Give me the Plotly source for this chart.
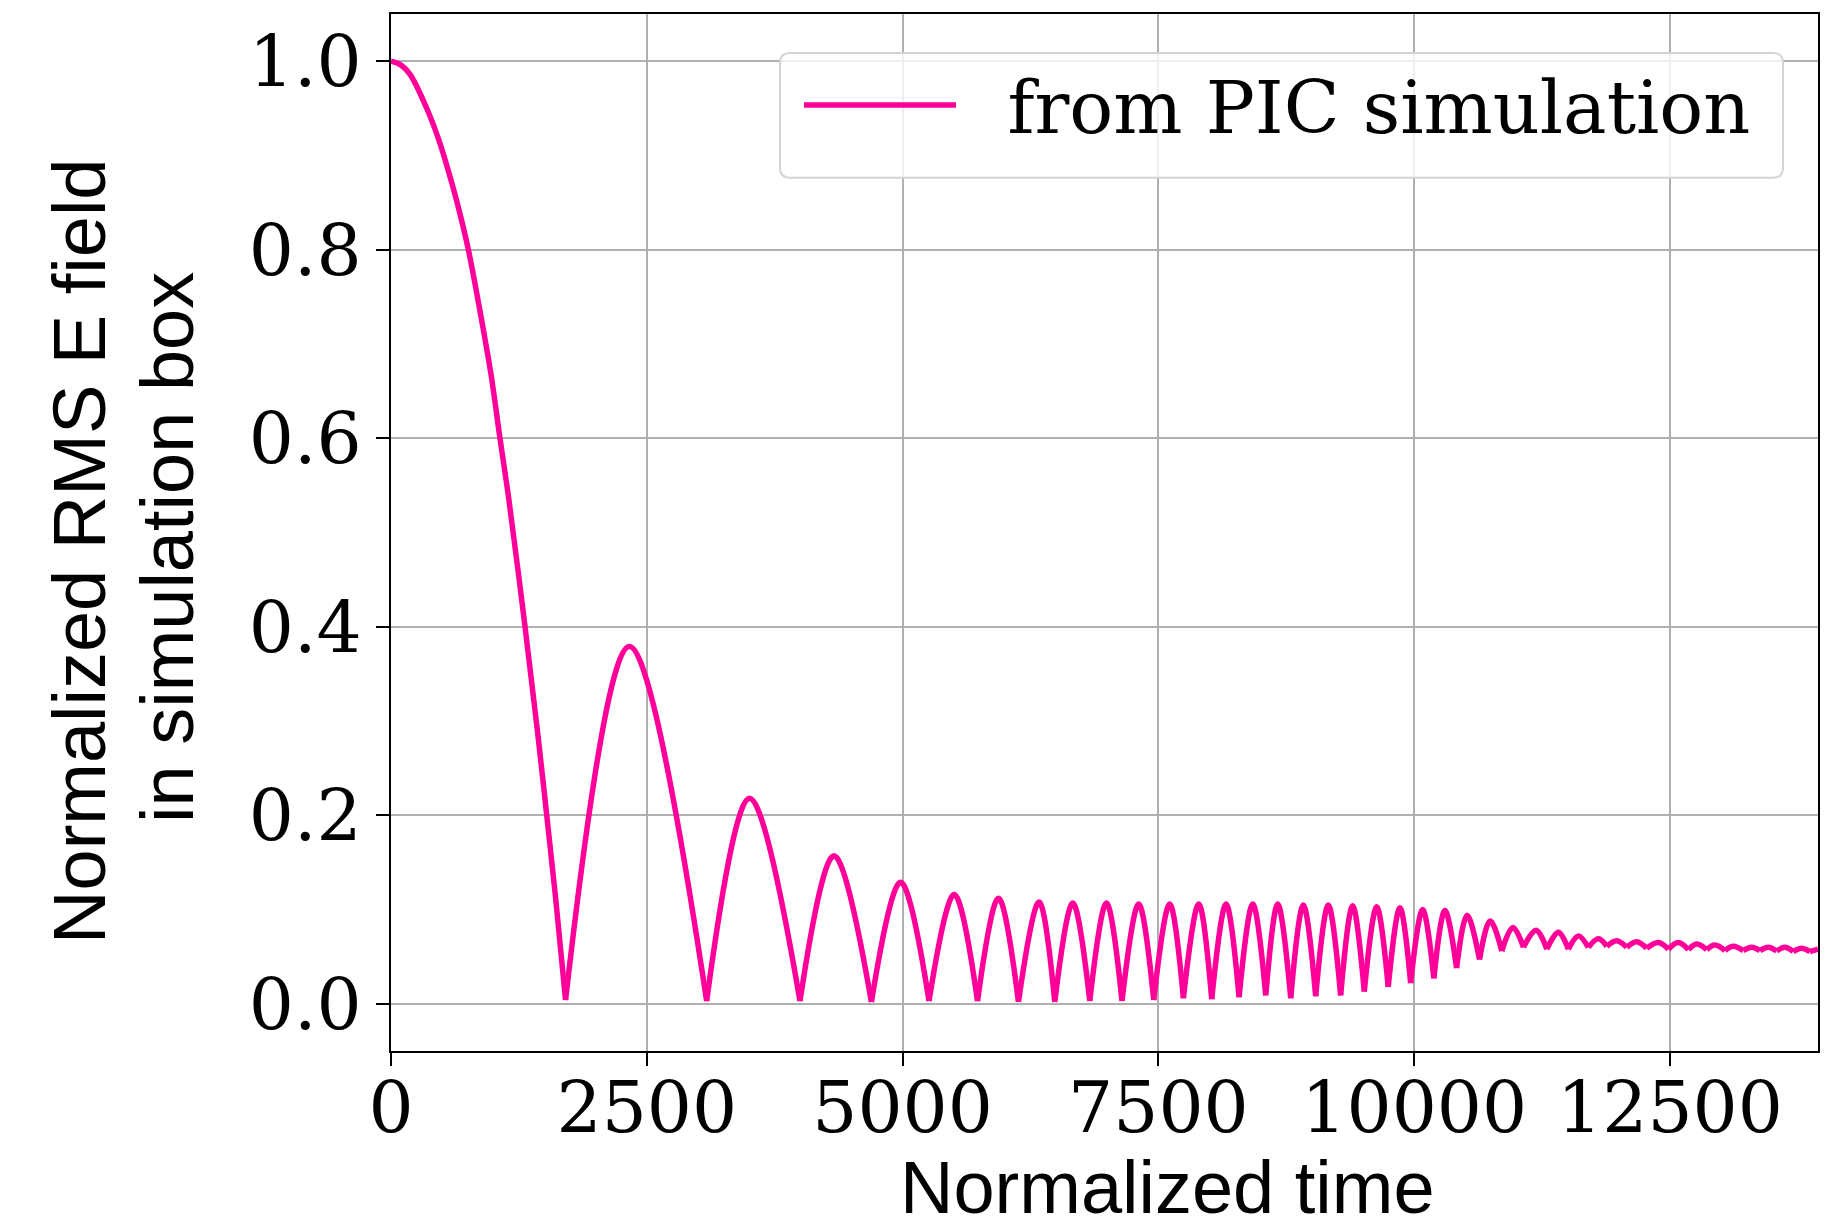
import plotly.graph_objects as go

# ---- data ----
first_lobe_t = [0, 95, 186, 349, 472, 570, 658, 756, 863, 977, 1065, 1153, 1310, 1434, 1522, 1610, 1706]
first_lobe_v = [1.0, 0.996, 0.986, 0.95, 0.915, 0.88, 0.845, 0.8, 0.739, 0.668, 0.6, 0.534, 0.4, 0.287, 0.2, 0.111, 0.004]

trough_t = [1706, 3085, 3997, 4695, 5258, 5732, 6132, 6487, 6829, 7144, 7454, 7744, 8021, 8288,
            8549, 8793, 9037, 9281, 9512, 9746, 9965, 10192, 10414, 10638, 10856, 11068, 11296,
            11506, 11702, 11882, 12077, 12272, 12484, 12679, 12858, 13037, 13216, 13379, 13542,
            13704, 13867]
trough_v = [0.004, 0.003, 0.003, 0.002, 0.003, 0.003, 0.002, 0.002, 0.003, 0.003, 0.004, 0.006,
            0.005, 0.007, 0.009, 0.006, 0.008, 0.009, 0.013, 0.018, 0.022, 0.027, 0.038, 0.047,
            0.056, 0.060, 0.058, 0.058, 0.060, 0.061, 0.060, 0.059, 0.058, 0.0575, 0.0575, 0.0565,
            0.0565, 0.0565, 0.056, 0.0555, 0.0555]

peak_t = [2329, 3504, 4329, 4980, 5504, 5937, 6333, 6663, 6992, 7307, 7610, 7894, 8161, 8422,
          8666, 8916, 9160, 9398, 9633, 9860, 10082, 10300, 10517, 10742, 10964, 11191, 11409,
          11605, 11800, 11979, 12175, 12386, 12581, 12760, 12939, 13118, 13298, 13460, 13623,
          13786]
peak_v = [0.379, 0.218, 0.157, 0.129, 0.116, 0.112, 0.108, 0.107, 0.107, 0.106, 0.106, 0.106,
          0.106, 0.106, 0.106, 0.105, 0.105, 0.104, 0.103, 0.102, 0.100, 0.099, 0.094, 0.088,
          0.081, 0.078, 0.076, 0.072, 0.069, 0.067, 0.066, 0.065, 0.065, 0.0635, 0.0625, 0.061,
          0.060, 0.060, 0.060, 0.059]

end_t = [13867, 13946]
end_v = [0.0555, 0.058]

x_ticks = [0, 2500, 5000, 7500, 10000, 12500]
y_ticks = [0.0, 0.2, 0.4, 0.6, 0.8, 1.0]

series_name = "from PIC simulation"
x_title = "Normalized time"
y_title_lines = ["Normalized RMS E field", "in simulation box"]

# ---- build the curve: each lobe drawn as its own smooth arch ----
xs, ys = list(first_lobe_t) + [None], list(first_lobe_v) + [None]
for i in range(len(peak_t)):
    xs += [trough_t[i], peak_t[i], trough_t[i + 1], None]
    ys += [trough_v[i], peak_v[i], trough_v[i + 1], None]
xs += end_t
ys += end_v

PINK = "#ff0099"
SERIF = "DejaVu Serif"
SANS = "Liberation Sans, Arial, Helvetica, sans-serif"
NBSP = "\u00a0"

fig = go.Figure()
fig.add_trace(go.Scatter(
    x=xs, y=ys, mode="lines", name=NBSP * 2 + series_name, connectgaps=False,
    line=dict(color=PINK, width=5.5, shape="spline", smoothing=1),
))

W, H = 1845, 1231
L, R, T, B = 391, 27, 12, 180
pw, ph = W - L - R, H - T - B

def px_x(X):
    return (X - L) / pw

def px_y(Y):
    return (H - B - Y) / ph

axis_common = dict(
    showline=True, linecolor="black", linewidth=2.2, mirror=True,
    showgrid=True, gridcolor="#b0b0b0", gridwidth=2,
    ticks="outside", ticklen=13, tickwidth=2.2, tickcolor="black",
    zeroline=False,
    tickfont=dict(family=SERIF, size=71, color="black"),
)

# legend frame (rounded, semi-transparent like the reference)
bx0, bx1 = px_x(780), px_x(1783)
by0, by1 = px_y(176), px_y(51)
rx, ry = 10 / pw, 10 / ph
frame_path = (
    f"M {bx0+rx},{by1} L {bx1-rx},{by1} Q {bx1},{by1} {bx1},{by1-ry} "
    f"L {bx1},{by0+ry} Q {bx1},{by0} {bx1-rx},{by0} L {bx0+rx},{by0} "
    f"Q {bx0},{by0} {bx0},{by0+ry} L {bx0},{by1-ry} Q {bx0},{by1} {bx0+rx},{by1} Z"
)

fig.update_layout(
    width=W, height=H,
    margin=dict(l=L, r=R, t=T, b=B, pad=0),
    paper_bgcolor="white", plot_bgcolor="white",
    showlegend=True,
    legend=dict(
        x=px_x(799), xanchor="left", y=px_y(49), yanchor="top",
        font=dict(family=SERIF, size=73, color="black"),
        bgcolor="rgba(0,0,0,0)", borderwidth=0,
        itemwidth=152,
    ),
    shapes=[dict(type="path", xref="paper", yref="paper", path=frame_path,
                 fillcolor="rgba(255,255,255,0.8)", line=dict(color="#d4d4d4", width=2),
                 layer="above")],
    xaxis=dict(range=[0, 13946], tickvals=x_ticks, tickformat="d",
               ticklabelstandoff=-19, **axis_common),
    yaxis=dict(range=[-0.05, 1.05], tickvals=y_ticks, tickformat=".1f", **axis_common),
    annotations=[
        dict(text=x_title, xref="paper", yref="paper", x=px_x(1167), y=px_y(1188),
             xanchor="center", yanchor="middle", showarrow=False,
             font=dict(family=SANS, size=74, color="black")),
        dict(text=y_title_lines[0], xref="paper", yref="paper", x=px_x(80), y=px_y(551),
             xanchor="center", yanchor="middle", showarrow=False, textangle=-90,
             font=dict(family=SANS, size=74, color="black")),
        dict(text=y_title_lines[1], xref="paper", yref="paper", x=px_x(168), y=px_y(547),
             xanchor="center", yanchor="middle", showarrow=False, textangle=-90,
             font=dict(family=SANS, size=74, color="black")),
    ],
)

fig.write_html("out.html")
